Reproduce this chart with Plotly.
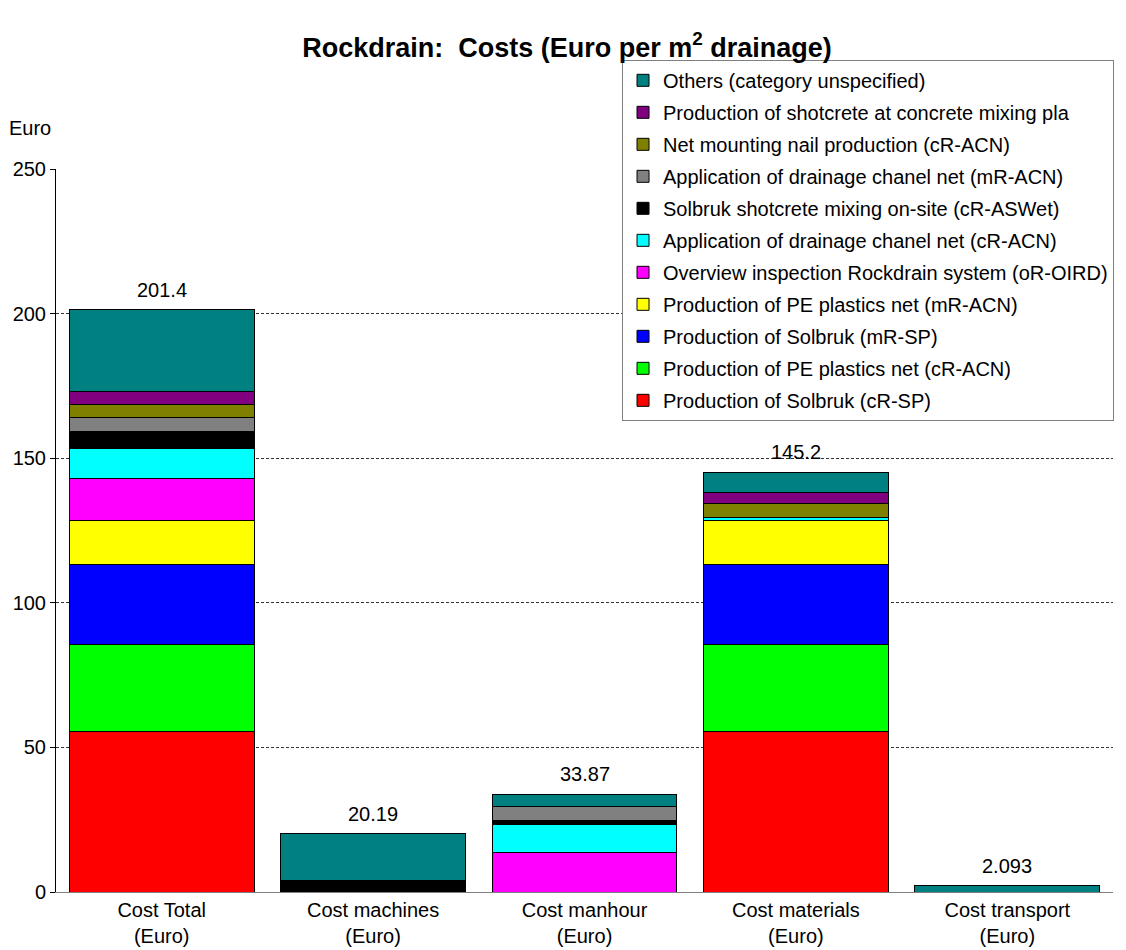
import plotly.graph_objects as go

categories = ["Cost Total<br>(Euro)", "Cost machines<br>(Euro)", "Cost manhour<br>(Euro)",
              "Cost materials<br>(Euro)", "Cost transport<br>(Euro)"]
totals = [201.4, 20.19, 33.87, 145.2, 2.093]
total_labels = ["201.4", "20.19", "33.87", "145.2", "2.093"]

# series, bottom to top of the stack
series_names = [
    "Production of Solbruk (cR-SP)",
    "Production of PE plastics net (cR-ACN)",
    "Production of Solbruk (mR-SP)",
    "Production of PE plastics net (mR-ACN)",
    "Overview inspection Rockdrain system (oR-OIRD)",
    "Application of drainage chanel net (cR-ACN)",
    "Solbruk shotcrete mixing on-site (cR-ASWet)",
    "Application of drainage chanel net (mR-ACN)",
    "Net mounting nail production (cR-ACN)",
    "Production of shotcrete at concrete mixing pla",
    "Others (category unspecified)",
]
solbruk_cr = [55.4, 0, 0, 55.4, 0]
pe_net_cr = [30.2, 0, 0, 30.2, 0]
solbruk_mr = [27.8, 0, 0, 27.8, 0]
pe_net_mr = [15.1, 0, 0, 15.0, 0]
inspection = [14.5, 0, 13.8, 0, 0]
chanel_cr = [10.4, 0, 9.7, 1.0, 0]
mixing_onsite = [5.9, 4.0, 1.2, 0, 0]
chanel_mr = [4.7, 0, 4.8, 0, 0]
nail_prod = [4.6, 0, 0, 4.8, 0]
shotcrete_plant = [4.3, 0, 0, 4.1, 0]
others = [28.5, 16.19, 4.37, 6.9, 2.093]

series_values = [solbruk_cr, pe_net_cr, solbruk_mr, pe_net_mr, inspection, chanel_cr,
                 mixing_onsite, chanel_mr, nail_prod, shotcrete_plant, others]
series_colors = ["#FF0000", "#00FF00", "#0000FF", "#FFFF00", "#FF00FF", "#00FFFF",
                 "#000000", "#808080", "#808000", "#800080", "#008080"]

FONT = "Liberation Sans, Arial, sans-serif"
FS = 20

fig = go.Figure()
n = len(series_names)
for i, (name, vals, col) in enumerate(zip(series_names, series_values, series_colors)):
    fig.add_trace(go.Bar(
        x=categories, y=vals, name=name, legendgroup=f"g{i}", legendrank=100 + (n - i),
        marker=dict(color=col, line=dict(color="black", width=1)),
        hoverinfo="skip",
    ))

for cat, tot, lab in zip(categories, totals, total_labels):
    fig.add_annotation(x=cat, y=tot, text=lab, showarrow=False, yanchor="bottom",
                       yshift=7, font=dict(size=FS, color="black", family=FONT))

fig.add_annotation(xref="paper", yref="paper", x=-0.046, y=1.057, text="Euro",
                   showarrow=False, xanchor="left", yanchor="middle",
                   font=dict(size=FS, color="black", family=FONT))

# the page body adds an 8px offset, so the figure is 8px smaller on each axis
fig.update_layout(
    width=1118, height=942,
    paper_bgcolor="white", plot_bgcolor="white",
    margin=dict(l=48, r=13, t=161, b=58, autoexpand=False),
    barmode="stack", bargap=0.125,
    font=dict(family=FONT, size=FS, color="black"),
    title=dict(text="<b>Rockdrain:  Costs (Euro per m<sup>2</sup> drainage)</b>",
               x=0.5, xanchor="center", y=0.9585, yanchor="middle",
               font=dict(size=27, family=FONT, color="black")),
    legend=dict(
        x=0.5355, y=1.151, xanchor="left", yanchor="top",
        traceorder="grouped", tracegroupgap=3,
        bordercolor="#808080", borderwidth=1, bgcolor="white",
        font=dict(size=FS, family=FONT, color="black"),
    ),
    showlegend=True,
)
fig.update_yaxes(range=[0, 250], tickvals=[0, 50, 100, 150, 200, 250],
                 showgrid=True, gridcolor="#333333", gridwidth=1, griddash="3px,2px",
                 showline=True, linecolor="black", linewidth=1,
                 ticks="outside", ticklen=5, tickcolor="black", automargin=False,
                 zeroline=False, tickfont=dict(size=FS, family=FONT))
fig.update_xaxes(showline=True, linecolor="#808080", linewidth=1, ticks="", automargin=False,
                 tickfont=dict(size=FS, family=FONT))

fig.write_html("out.html")
